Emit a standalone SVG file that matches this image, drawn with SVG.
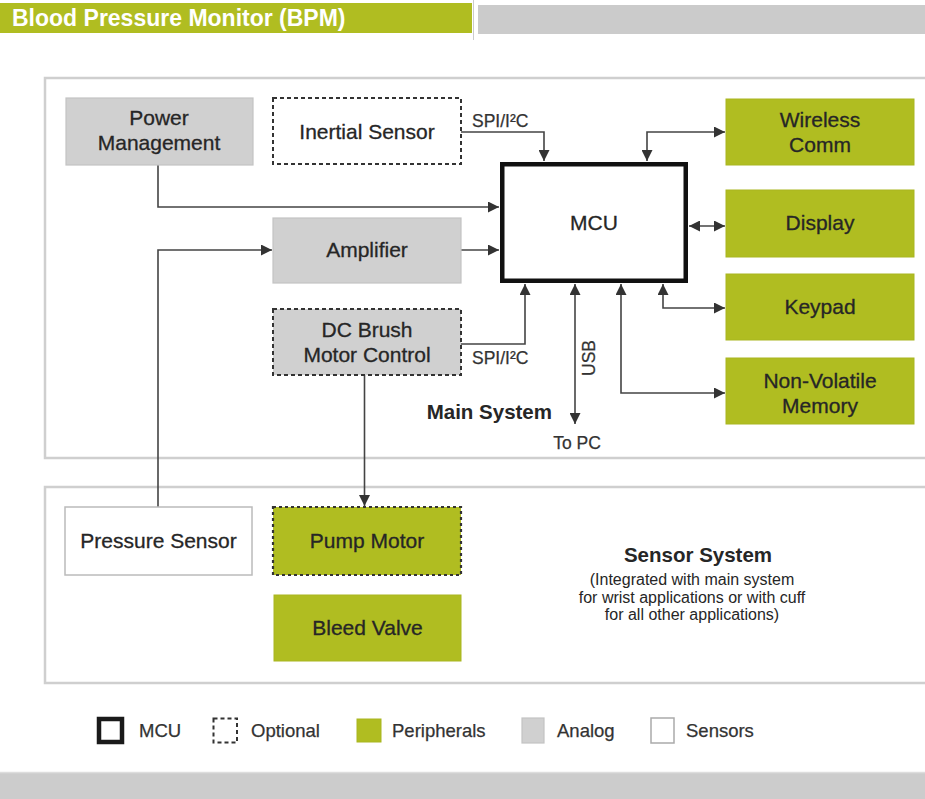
<svg xmlns="http://www.w3.org/2000/svg" width="925" height="799" viewBox="0 0 925 799">
<style>
  text { font-family: "Liberation Sans", Arial, sans-serif; fill: #262626; }
  .node { font-size: 21px; text-anchor: middle; stroke: #262626; stroke-width: 0.3; }
  .lbl { font-size: 17.5px; fill: #333; stroke: #333; stroke-width: 0.25; }
  .leg { font-size: 18.5px; fill: #333; stroke: #333; stroke-width: 0.25; }
  .green { fill: #b0bd21; stroke: #a9b620; stroke-width: 1; }
  .analog { fill: #d0d0d0; stroke: #c3c3c3; stroke-width: 1.2; }
  .dash { stroke: #333; stroke-width: 2; stroke-dasharray: 4 3; }
  .dot { stroke: #333; stroke-width: 2.2; stroke-dasharray: 3 3; }
  .sys { fill: #fff; stroke: #cfcfcf; stroke-width: 2.5; }
  .conn path { fill: none; stroke: #444; stroke-width: 1.6; }
</style>
<defs>
  <marker id="ah" viewBox="0 0 10 10" refX="10" refY="5" markerWidth="11" markerHeight="11" markerUnits="userSpaceOnUse" orient="auto-start-reverse">
    <path d="M0,0 L10,5 L0,10 z" fill="#333"/>
  </marker>
</defs>
<rect width="925" height="799" fill="#fff"/>

<g id="header">
  <rect x="0" y="3" width="472" height="30" fill="#b0bd21"/>
  <rect x="478" y="5" width="447" height="29" fill="#cbcbcb"/>
  <line x1="473.5" y1="0" x2="473.5" y2="40" stroke="#cccccc" stroke-width="1"/>
  <text x="12" y="26" style="font-size:23px;font-weight:bold;fill:#fff">Blood Pressure Monitor (BPM)</text>
</g>

<g id="main-system">
  <rect class="sys" x="45" y="78" width="900" height="380"/>
  <text x="552" y="419" style="font-size:20.5px;font-weight:bold;text-anchor:end">Main System</text>
</g>
<g id="sensor-system">
  <rect class="sys" x="45" y="487" width="900" height="196"/>
  <text x="698" y="562" style="font-size:20.5px;font-weight:bold;text-anchor:middle">Sensor System</text>
  <text x="692" y="585" style="font-size:16px;text-anchor:middle">(Integrated with main system</text>
  <text x="692" y="603" style="font-size:16px;text-anchor:middle">for wrist applications or with cuff</text>
  <text x="692" y="620" style="font-size:16px;text-anchor:middle">for all other applications)</text>
</g>

<g class="conn" id="connectors">
  <path d="M158 165 V207 H499" marker-end="url(#ah)"/>
  <path d="M461 250 H499" marker-end="url(#ah)"/>
  <path d="M158 507 V250 H272" marker-end="url(#ah)"/>
  <path d="M461 132 H544 V161" marker-end="url(#ah)"/>
  <path d="M647 161 V132 H725" marker-start="url(#ah)" marker-end="url(#ah)"/>
  <path d="M689 226 H725" marker-start="url(#ah)" marker-end="url(#ah)"/>
  <path d="M663 284 V308 H725" marker-start="url(#ah)" marker-end="url(#ah)"/>
  <path d="M621 284 V393 H725" marker-start="url(#ah)" marker-end="url(#ah)"/>
  <path d="M575 284 V424" marker-start="url(#ah)" marker-end="url(#ah)"/>
  <path d="M461 344 H525 V284" marker-end="url(#ah)"/>
  <path d="M364.5 375 V506" marker-end="url(#ah)"/>
  <text class="lbl" x="472" y="127">SPI/I²C</text>
  <text class="lbl" x="472" y="364">SPI/I²C</text>
  <text class="lbl" x="595" y="358" text-anchor="middle" transform="rotate(-90 595 358)" style="font-size:17.5px">USB</text>
  <text class="lbl" x="577" y="449" text-anchor="middle" style="font-size:17.5px">To PC</text>
</g>

<g id="power-management">
  <rect class="analog" x="66" y="98" width="187" height="67"/>
  <text class="node" x="159" y="125">Power</text>
  <text class="node" x="159" y="150">Management</text>
</g>
<g id="inertial-sensor">
  <rect class="dash" x="273" y="98" width="188" height="66" fill="#fff"/>
  <text class="node" x="367" y="139">Inertial Sensor</text>
</g>
<g id="amplifier">
  <rect class="analog" x="273" y="218" width="188" height="65"/>
  <text class="node" x="367" y="257">Amplifier</text>
</g>
<g id="dc-brush-motor-control">
  <rect class="dash" x="273" y="309" width="188" height="66" fill="#d0d0d0"/>
  <text class="node" x="367" y="337">DC Brush</text>
  <text class="node" x="367" y="362">Motor Control</text>
</g>
<g id="mcu">
  <rect x="502.25" y="164.25" width="183.5" height="116.5" fill="#fff" stroke="#111" stroke-width="4.5"/>
  <text class="node" x="594" y="230">MCU</text>
</g>
<g id="wireless-comm">
  <rect class="green" x="726" y="99" width="188" height="66"/>
  <text class="node" x="820" y="127">Wireless</text>
  <text class="node" x="820" y="152">Comm</text>
</g>
<g id="display">
  <rect class="green" x="726" y="190" width="188" height="67"/>
  <text class="node" x="820" y="230">Display</text>
</g>
<g id="keypad">
  <rect class="green" x="726" y="274" width="188" height="66"/>
  <text class="node" x="820" y="314">Keypad</text>
</g>
<g id="non-volatile-memory">
  <rect class="green" x="726" y="358" width="188" height="66"/>
  <text class="node" x="820" y="388">Non-Volatile</text>
  <text class="node" x="820" y="413">Memory</text>
</g>
<g id="pressure-sensor">
  <rect x="65" y="507" width="187" height="68" fill="#fff" stroke="#bbbbbb" stroke-width="1.5"/>
  <text class="node" x="158.5" y="548">Pressure Sensor</text>
</g>
<g id="pump-motor">
  <rect class="dot" x="273" y="507" width="188" height="68" fill="#b0bd21"/>
  <text class="node" x="367" y="548">Pump Motor</text>
</g>
<g id="bleed-valve">
  <rect class="green" x="274" y="595" width="187" height="66"/>
  <text class="node" x="367.5" y="635">Bleed Valve</text>
</g>

<g id="legend">
  <rect x="99" y="719" width="23" height="23" fill="#fff" stroke="#1a1a1a" stroke-width="4.5"/>
  <text class="leg" x="139" y="737">MCU</text>
  <rect x="213.5" y="718.5" width="23.5" height="24" fill="#fff" class="dash"/>
  <text class="leg" x="251" y="737">Optional</text>
  <rect class="green" x="357" y="719" width="24" height="23"/>
  <text class="leg" x="392" y="737">Peripherals</text>
  <rect class="analog" x="522" y="718" width="22" height="25"/>
  <text class="leg" x="557" y="737">Analog</text>
  <rect x="651" y="718" width="23" height="25" fill="#fff" stroke="#aaaaaa" stroke-width="1.5"/>
  <text class="leg" x="686" y="737">Sensors</text>
</g>

<g id="footer">
  <rect x="0" y="772" width="925" height="27" fill="#cccccc"/>
  <line x1="0" y1="772.5" x2="925" y2="772.5" stroke="#dddddd" stroke-width="1.5"/>
</g>
</svg>
